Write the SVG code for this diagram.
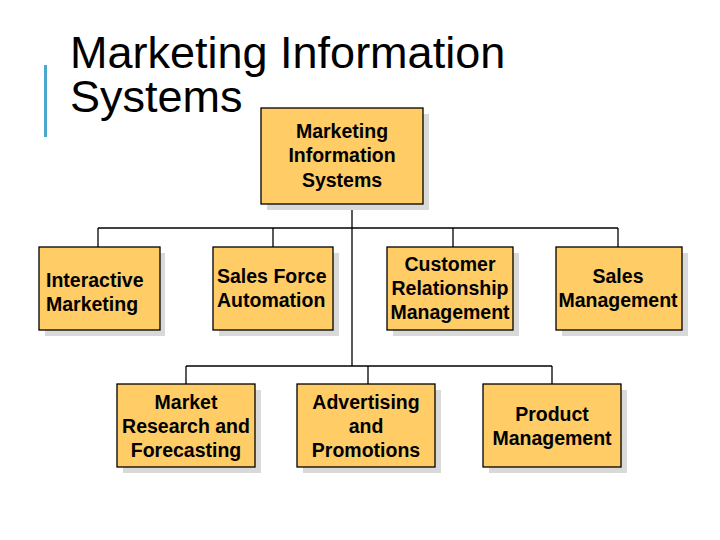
<svg xmlns="http://www.w3.org/2000/svg" width="720" height="540" viewBox="0 0 720 540">
<defs>
<style>
.shadow{fill:#d9d9d9}
.box{fill:#ffcc66;stroke:#000;stroke-width:1.3}
.lbl{font-family:"Liberation Sans",Arial,sans-serif;font-weight:bold;font-size:19.5px;fill:#000}
.c{text-anchor:middle}
.title{font-family:"Liberation Sans",Arial,sans-serif;font-size:45px;fill:#000}
.conn line{stroke:#000;stroke-width:1.3}
</style>
</defs>
<rect x="0" y="0" width="720" height="540" fill="#fff"/>
<rect x="44" y="65" width="3" height="72" fill="#4ba8cc"/>
<text class="title" x="70" y="68">Marketing Information</text>
<text class="title" x="70" y="112">Systems</text>
<g class="conn" id="connectors">
<line x1="352" y1="204" x2="352" y2="366"/>
<line x1="98" y1="228" x2="618" y2="228"/>
<line x1="98" y1="228" x2="98" y2="247"/>
<line x1="273" y1="228" x2="273" y2="247"/>
<line x1="453" y1="228" x2="453" y2="247"/>
<line x1="618" y1="228" x2="618" y2="247"/>
<line x1="186" y1="366" x2="552" y2="366"/>
<line x1="186" y1="366" x2="186" y2="384"/>
<line x1="368" y1="366" x2="368" y2="384"/>
<line x1="552" y1="366" x2="552" y2="384"/>
</g>
<g id="mis">
<rect class="shadow" x="267" y="114" width="162" height="96"/>
<rect class="box" x="261" y="108" width="162" height="96"/>
<text class="lbl c" x="342" y="138">Marketing</text>
<text class="lbl c" x="342" y="162">Information</text>
<text class="lbl c" x="342" y="187">Systems</text>
</g>
<g id="interactive">
<rect class="shadow" x="45" y="253" width="120" height="83"/>
<rect class="box" x="39" y="247" width="121" height="83"/>
<text class="lbl" x="46" y="287">Interactive</text>
<text class="lbl" x="46" y="311">Marketing</text>
</g>
<g id="sfa">
<rect class="shadow" x="219" y="253" width="120" height="83"/>
<rect class="box" x="213" y="247" width="120" height="83"/>
<text class="lbl" x="217" y="283">Sales Force</text>
<text class="lbl" x="217" y="307">Automation</text>
</g>
<g id="crm">
<rect class="shadow" x="393" y="253" width="126" height="83"/>
<rect class="box" x="387" y="247" width="126" height="83"/>
<text class="lbl c" x="450" y="271">Customer</text>
<text class="lbl c" x="450" y="295">Relationship</text>
<text class="lbl c" x="450" y="319">Management</text>
</g>
<g id="salesmgmt">
<rect class="shadow" x="562" y="253" width="126" height="83"/>
<rect class="box" x="556" y="247" width="126" height="83"/>
<text class="lbl c" x="618" y="283">Sales</text>
<text class="lbl c" x="618" y="307">Management</text>
</g>
<g id="research">
<rect class="shadow" x="123" y="390" width="138" height="83"/>
<rect class="box" x="117" y="384" width="138" height="83"/>
<text class="lbl c" x="186" y="409">Market</text>
<text class="lbl c" x="186" y="433">Research and</text>
<text class="lbl c" x="186" y="457">Forecasting</text>
</g>
<g id="advertising">
<rect class="shadow" x="303" y="390" width="138" height="83"/>
<rect class="box" x="297" y="384" width="138" height="83"/>
<text class="lbl c" x="366" y="409">Advertising</text>
<text class="lbl c" x="366" y="433">and</text>
<text class="lbl c" x="366" y="457">Promotions</text>
</g>
<g id="product">
<rect class="shadow" x="489" y="390" width="138" height="83"/>
<rect class="box" x="483" y="384" width="138" height="83"/>
<text class="lbl c" x="552" y="421">Product</text>
<text class="lbl c" x="552" y="445">Management</text>
</g>
</svg>
